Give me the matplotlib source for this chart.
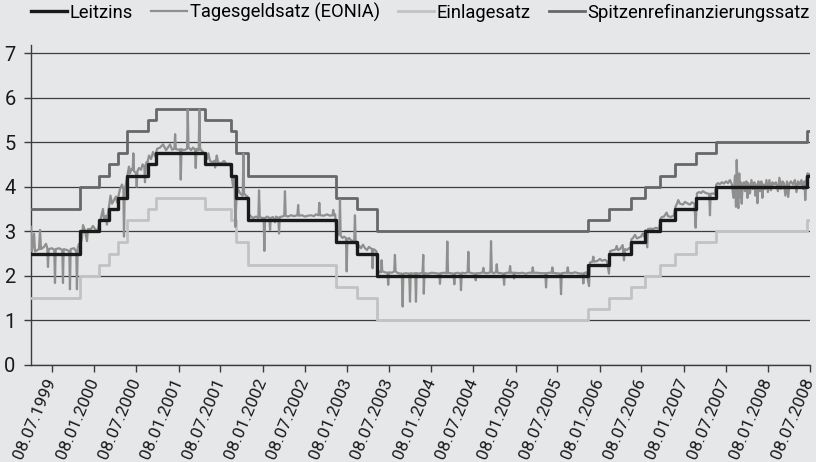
import numpy as np
import pandas as pd
import matplotlib
matplotlib.use("Agg")
import matplotlib.pyplot as plt

# Zinsschritte (Zeitpunkte als Dezimaljahre)
zins_zeit = [1999.266, 1999.852, 2000.073, 2000.188, 2000.299, 2000.409, 2000.649, 2000.754,
             2001.332, 2001.641, 2001.697, 2001.846, 2002.884, 2003.133, 2003.378,
             2005.880, 2006.132, 2006.390, 2006.557, 2006.735, 2006.913, 2007.162,
             2007.396, 2008.480, 2008.516]
leitzins = [2.50, 3.00, 3.25, 3.50, 3.75, 4.25, 4.50, 4.75, 4.50, 4.25, 3.75, 3.25, 2.75, 2.50, 2.00,
            2.25, 2.50, 2.75, 3.00, 3.25, 3.50, 3.75, 4.00, 4.25, 4.25]
einlagesatz = [1.50, 2.00, 2.25, 2.50, 2.75, 3.25, 3.50, 3.75, 3.50, 3.25, 2.75, 2.25, 1.75, 1.50, 1.00,
               1.25, 1.50, 1.75, 2.00, 2.25, 2.50, 2.75, 3.00, 3.25, 3.25]
spitzensatz = [3.50, 4.00, 4.25, 4.50, 4.75, 5.25, 5.50, 5.75, 5.50, 5.25, 4.75, 4.25, 3.75, 3.50, 3.00,
               3.25, 3.50, 3.75, 4.00, 4.25, 4.50, 4.75, 5.00, 5.25, 5.25]

eonia_zeit = [
    1999.266, 1999.278, 1999.302, 1999.314, 1999.361, 1999.373, 1999.385, 1999.420, 1999.444, 1999.460,
    1999.468, 1999.476, 1999.515, 1999.543, 1999.551, 1999.559, 1999.599, 1999.638, 1999.646, 1999.654,
    1999.694, 1999.721, 1999.729, 1999.737, 1999.777, 1999.804, 1999.812, 1999.821, 1999.836,
    1999.854, 1999.872, 1999.884, 1999.907, 1999.931, 1999.943, 1999.979, 2000.002, 2000.038, 2000.062,
    2000.080, 2000.097, 2000.121, 2000.133, 2000.157, 2000.168, 2000.180,
    2000.192, 2000.210, 2000.228, 2000.251, 2000.275, 2000.287,
    2000.305, 2000.323, 2000.346, 2000.363, 2000.370, 2000.378, 2000.394,
    2000.415, 2000.429, 2000.441, 2000.459, 2000.473, 2000.481, 2000.489, 2000.513, 2000.521, 2000.529,
    2000.548, 2000.572, 2000.590, 2000.611, 2000.619, 2000.628, 2000.637,
    2000.649, 2000.667, 2000.691, 2000.714, 2000.738,
    2000.762, 2000.798, 2000.833, 2000.869, 2000.916, 2000.940, 2000.967, 2000.976, 2000.984, 2001.011,
    2001.035, 2001.043, 2001.052, 2001.083, 2001.118, 2001.126, 2001.135, 2001.166, 2001.189, 2001.213,
    2001.221, 2001.229, 2001.256, 2001.264, 2001.273, 2001.296, 2001.320,
    2001.338, 2001.356, 2001.371, 2001.391, 2001.415, 2001.443, 2001.451, 2001.460, 2001.471, 2001.486,
    2001.522, 2001.558, 2001.593, 2001.617, 2001.635,
    2001.647, 2001.665, 2001.682, 2001.691,
    2001.706, 2001.724, 2001.748, 2001.779, 2001.787, 2001.795, 2001.819, 2001.837,
    2001.852, 2001.867, 2001.902, 2001.938, 2001.965, 2001.973, 2001.982, 2002.009, 2002.028, 2002.036,
    2002.045, 2002.068, 2002.096, 2002.104, 2002.112, 2002.139, 2002.163, 2002.175, 2002.202, 2002.211,
    2002.219, 2002.246, 2002.273, 2002.281, 2002.290, 2002.317, 2002.353, 2002.388, 2002.429, 2002.438,
    2002.446, 2002.484, 2002.519, 2002.555, 2002.591, 2002.626, 2002.650, 2002.681, 2002.689, 2002.698,
    2002.745, 2002.781, 2002.816, 2002.847, 2002.855, 2002.864, 2002.878,
    2002.888, 2002.905, 2002.927, 2002.935, 2002.943, 2002.965, 2002.983, 2003.006, 2003.015, 2003.023,
    2003.042, 2003.066, 2003.089, 2003.105, 2003.113, 2003.121,
    2003.143, 2003.161, 2003.184, 2003.208, 2003.232, 2003.256, 2003.279, 2003.315, 2003.323, 2003.332,
    2003.351, 2003.368,
    2003.386, 2003.410, 2003.422, 2003.430, 2003.438, 2003.469, 2003.500, 2003.508, 2003.517, 2003.552,
    2003.580, 2003.588, 2003.596, 2003.623, 2003.670, 2003.680, 2003.688, 2003.719, 2003.758, 2003.767,
    2003.775, 2003.802, 2003.830, 2003.838, 2003.846, 2003.885, 2003.916, 2003.925, 2003.931, 2003.939,
    2003.980, 2004.028, 2004.075, 2004.115, 2004.123, 2004.131, 2004.170, 2004.201, 2004.210, 2004.218,
    2004.254, 2004.284, 2004.293, 2004.301, 2004.337, 2004.364, 2004.372, 2004.381, 2004.420, 2004.451,
    2004.459, 2004.467, 2004.503, 2004.538, 2004.547, 2004.555, 2004.598, 2004.629, 2004.637, 2004.645,
    2004.681, 2004.720, 2004.728, 2004.737, 2004.764, 2004.788, 2004.796, 2004.804, 2004.847, 2004.874,
    2004.883, 2004.891, 2004.918, 2004.945, 2004.954, 2004.962, 2004.993, 2005.001, 2005.010, 2005.061,
    2005.096, 2005.140, 2005.179, 2005.215, 2005.223, 2005.232, 2005.274, 2005.322, 2005.373, 2005.381,
    2005.390, 2005.417, 2005.448, 2005.456, 2005.464, 2005.500, 2005.551, 2005.559, 2005.568, 2005.607,
    2005.631, 2005.639, 2005.647, 2005.690, 2005.726, 2005.761, 2005.816, 2005.824, 2005.832, 2005.862,
    2005.892, 2005.904, 2005.933, 2005.943, 2005.951, 2005.987, 2006.022, 2006.046, 2006.082, 2006.105,
    2006.129,
    2006.141, 2006.165, 2006.188, 2006.212, 2006.220, 2006.236, 2006.260, 2006.292, 2006.307, 2006.319,
    2006.343, 2006.366, 2006.384,
    2006.396, 2006.414, 2006.438, 2006.461, 2006.485, 2006.509, 2006.529, 2006.545,
    2006.562, 2006.584, 2006.592, 2006.616, 2006.652, 2006.687, 2006.711, 2006.729,
    2006.741, 2006.758, 2006.782, 2006.814, 2006.830, 2006.865, 2006.901,
    2006.919, 2006.937, 2006.952, 2006.972, 2007.008, 2007.032, 2007.067, 2007.091, 2007.115, 2007.145,
    2007.159,
    2007.174, 2007.198, 2007.222, 2007.246, 2007.269, 2007.293, 2007.320, 2007.329, 2007.337, 2007.364,
    2007.388,
    2007.404, 2007.424, 2007.448, 2007.471, 2007.495, 2007.519, 2007.543, 2007.566, 2007.590, 2007.608,
    2007.626, 2007.638, 2007.647, 2007.657, 2007.666, 2007.677, 2007.687, 2007.697, 2007.706, 2007.717,
    2007.733, 2007.744, 2007.762, 2007.774, 2007.786, 2007.804, 2007.822, 2007.839, 2007.857, 2007.869,
    2007.883, 2007.893, 2007.905, 2007.922, 2007.940, 2007.952, 2007.964, 2007.982, 2008.000, 2008.017,
    2008.035, 2008.053, 2008.071, 2008.089, 2008.112, 2008.136, 2008.154, 2008.172, 2008.190, 2008.207,
    2008.225, 2008.243, 2008.258, 2008.273, 2008.290, 2008.314, 2008.338, 2008.356, 2008.374, 2008.397,
    2008.415, 2008.433, 2008.451, 2008.460, 2008.471,
    2008.486, 2008.510]
eonia = [
    3.10, 2.55, 2.95, 2.55, 2.60, 3.03, 2.60, 2.65, 2.72, 2.62,
    2.20, 2.60, 2.62, 2.58, 1.84, 2.60, 2.62, 2.58, 1.84, 2.60,
    2.58, 2.55, 1.70, 2.60, 2.62, 2.55, 1.70, 2.62, 2.72,
    2.70, 2.85, 3.14, 3.02, 2.78, 3.05, 3.05, 3.12, 3.02, 3.05,
    3.20, 3.30, 3.50, 3.28, 3.35, 3.15, 3.40,
    3.55, 3.80, 3.62, 3.70, 3.78, 3.65,
    3.80, 3.95, 4.05, 3.95, 2.88, 3.90, 4.08,
    4.30, 4.45, 4.30, 4.40, 4.38, 4.75, 4.35, 4.30, 4.00, 4.35,
    4.42, 4.38, 4.50, 4.45, 4.10, 4.50, 4.55,
    4.55, 4.70, 4.62, 4.78, 4.68,
    4.85, 4.88, 4.95, 4.82, 4.95, 4.83, 4.85, 5.18, 4.85, 4.83,
    4.84, 4.16, 4.84, 4.82, 4.85, 5.73, 4.88, 4.82, 4.88, 4.83,
    4.42, 4.85, 4.82, 5.73, 4.85, 4.80, 4.75,
    4.70, 4.62, 4.75, 4.58, 4.55, 4.58, 4.43, 4.58, 4.70, 4.55,
    4.52, 4.58, 4.50, 4.52, 4.45,
    4.25, 4.00, 4.20, 3.10,
    3.80, 3.95, 3.85, 3.80, 4.74, 3.85, 3.80, 3.78,
    3.40, 3.35, 3.30, 3.33, 3.30, 3.92, 3.32, 3.30, 3.30, 2.56,
    3.30, 3.33, 3.30, 3.03, 3.30, 3.32, 3.20, 3.33, 3.30, 2.95,
    3.32, 3.33, 3.35, 3.90, 3.35, 3.33, 3.36, 3.34, 3.36, 3.59,
    3.35, 3.36, 3.33, 3.35, 3.36, 3.34, 3.38, 3.36, 3.64, 3.36,
    3.35, 3.38, 3.35, 3.36, 3.48, 3.36, 3.38,
    3.10, 2.90, 2.95, 3.70, 2.90, 2.85, 2.88, 2.85, 2.10, 2.82,
    2.85, 2.80, 2.78, 2.80, 3.36, 2.80,
    2.60, 2.68, 2.62, 2.70, 2.62, 2.58, 2.65, 2.60, 2.17, 2.60,
    2.58, 2.55,
    2.12, 2.08, 2.08, 2.35, 2.10, 2.08, 2.07, 1.80, 2.08, 2.07,
    2.10, 2.47, 2.10, 2.06, 2.05, 1.31, 2.05, 2.06, 2.05, 1.42,
    2.06, 2.05, 2.06, 1.42, 2.06, 2.05, 2.08, 2.47, 1.60, 2.06,
    2.05, 2.07, 2.06, 2.05, 1.82, 2.06, 2.07, 2.06, 2.77, 2.07,
    2.06, 2.05, 1.81, 2.06, 2.07, 2.05, 1.68, 2.07, 2.06, 2.08,
    2.54, 2.08, 2.06, 2.05, 1.90, 2.06, 2.06, 2.08, 2.18, 2.07,
    2.06, 2.08, 2.78, 2.08, 2.06, 2.09, 2.26, 2.07, 2.06, 2.05,
    1.80, 2.06, 2.07, 2.07, 2.22, 2.07, 2.07, 1.94, 2.07, 2.06,
    2.07, 2.05, 2.07, 2.07, 2.19, 2.07, 2.07, 2.06, 2.06, 1.74,
    2.06, 2.07, 2.07, 2.19, 2.07, 2.06, 2.05, 1.59, 2.06, 2.07,
    2.07, 2.19, 2.07, 2.06, 2.08, 2.06, 2.05, 1.83, 2.06, 2.08,
    1.77, 2.30, 2.32, 2.43, 2.32, 2.33, 2.38, 2.34, 2.36, 2.33,
    2.05,
    2.55, 2.57, 2.58, 2.60, 2.67, 2.58, 2.60, 2.69, 2.35, 2.60,
    2.58, 2.62, 2.60,
    2.82, 2.85, 2.92, 2.84, 2.86, 2.88, 2.95, 2.88,
    3.02, 2.64, 3.05, 3.06, 3.05, 3.08, 3.06, 3.10,
    3.28, 3.32, 3.33, 3.42, 3.34, 3.32, 3.36,
    3.55, 3.62, 3.70, 3.62, 3.60, 3.66, 3.62, 3.60, 3.65, 3.62,
    3.08,
    3.85, 3.88, 3.86, 3.90, 3.87, 3.85, 3.84, 3.36, 3.84, 3.85,
    3.83,
    4.05, 4.08, 4.06, 4.10, 4.07, 4.12, 4.08, 4.15, 4.05, 3.75,
    4.25, 3.55, 4.60, 3.90, 3.52, 4.30, 3.75, 4.10, 3.62, 4.05,
    4.10, 3.90, 4.12, 3.75, 4.08, 3.85, 4.15, 3.95, 4.10, 3.80,
    4.05, 3.63, 4.12, 3.90, 4.12, 3.75, 4.05, 3.95, 4.15, 3.88,
    4.15, 3.92, 4.10, 4.05, 4.10, 3.90, 4.20, 3.95, 4.12, 4.08,
    3.80, 4.12, 3.77, 4.08, 4.12, 4.05, 4.15, 3.88, 4.12, 4.05,
    4.15, 3.95, 4.12, 3.70, 4.10,
    4.30, 4.28]

tick_labels = ['08.07.1999', '08.01.2000', '08.07.2000', '08.01.2001', '08.07.2001', '08.01.2002',
               '08.07.2002', '08.01.2003', '08.07.2003', '08.01.2004', '08.07.2004', '08.01.2005',
               '08.07.2005', '08.01.2006', '08.07.2006', '08.01.2007', '08.07.2007', '08.01.2008',
               '08.07.2008']


def zu_datum(werte):
    # Dezimaljahr -> Zeitstempel
    out = []
    for w in werte:
        j = int(w)
        a = pd.Timestamp(j, 1, 1)
        b = pd.Timestamp(j + 1, 1, 1)
        out.append(a + (w - j) * (b - a))
    return out


plt.rcParams['font.family'] = ['Roboto', 'DejaVu Sans']
plt.rcParams['font.size'] = 13.5

hg = '#e6e7e9'
fig = plt.figure(figsize=(8.16, 4.62), dpi=100, facecolor=hg)
ax = fig.add_axes([31 / 816, 97 / 462, 779 / 816, 320 / 462], facecolor=hg)

t_zins = zu_datum(zins_zeit)
t_eonia = zu_datum(eonia_zeit)

l_spitz, = ax.plot(t_zins, spitzensatz, drawstyle='steps-post', color='#686868', lw=2.0, zorder=3)
l_einl, = ax.plot(t_zins, einlagesatz, drawstyle='steps-post', color='#c2c2c2', lw=2.0, zorder=3)
l_eonia, = ax.plot(t_eonia, eonia, color='#8f8f8f', lw=1.6, zorder=4)
l_leit, = ax.plot(t_zins, leitzins, drawstyle='steps-post', color='#1a1a1a', lw=2.4, zorder=5)

ax.set_ylim(0, 7.18)
ax.set_xlim(t_zins[0], t_zins[-1])
ax.set_yticks(range(0, 8))
ax.yaxis.grid(True, color='#3c3c3c', lw=0.9)
ax.set_axisbelow(True)

tick_pos = pd.to_datetime(tick_labels, format='%d.%m.%Y')
ax.set_xticks(tick_pos)
ax.set_xticklabels(tick_labels, rotation=67, ha='right', va='center', rotation_mode='anchor',
                   fontsize=12.3)

for s in ['top', 'right']:
    ax.spines[s].set_visible(False)
for s in ['left', 'bottom']:
    ax.spines[s].set_color('#3c3c3c')
    ax.spines[s].set_linewidth(1.0)
ax.tick_params(axis='both', color='#3c3c3c', length=5, width=1.0, labelcolor='#1a1a1a')
ax.tick_params(axis='y', pad=6, labelsize=14.5)
ax.tick_params(axis='x', pad=5)

fig.legend([l_leit, l_eonia, l_einl, l_spitz],
           ['Leitzins', 'Tagesgeldsatz (EONIA)', 'Einlagesatz', 'Spitzenrefinanzierungssatz'],
           loc='upper left', bbox_to_anchor=(31 / 816, 1 - 3 / 462), ncol=4, frameon=False,
           fontsize=13.2, handlelength=1.95, handletextpad=0.15, columnspacing=1.0,
           borderaxespad=0, borderpad=0)

fig.savefig('out.png', dpi=100, facecolor=hg)
